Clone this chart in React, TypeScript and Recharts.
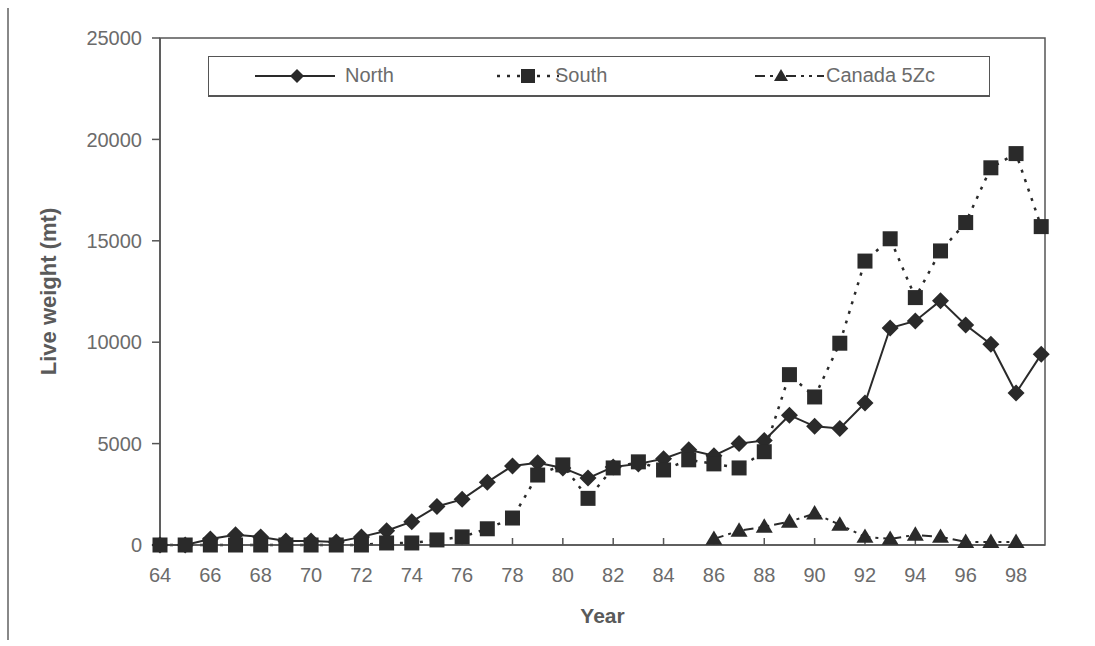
import React from 'react';
import {
  LineChart,
  Line,
  XAxis,
  YAxis,
  Legend,
  ReferenceArea,
  Label,
} from 'recharts';

const years = [
  64, 65, 66, 67, 68, 69, 70, 71, 72, 73, 74, 75, 76, 77, 78, 79, 80, 81,
  82, 83, 84, 85, 86, 87, 88, 89, 90, 91, 92, 93, 94, 95, 96, 97, 98, 99,
];
const north = [
  0, 0, 300, 500, 400, 200, 200, 150, 400, 700, 1150, 1900, 2250, 3100, 3900, 4050, 3800, 3300,
  3850, 4000, 4250, 4700, 4400, 5000, 5150, 6400, 5850, 5750, 7000, 10700, 11050, 12050, 10850, 9900, 7500, 9400,
];
const south = [
  0, 0, 0, 0, 0, 0, 0, 0, 0, 100, 100, 250, 400, 800, 1330, 3450, 3950, 2300,
  3800, 4100, 3700, 4200, 4000, 3800, 4600, 8400, 7300, 9950, 14000, 15100, 12200, 14500, 15900, 18600, 19300, 15700,
];
const canada: (number | null)[] = [
  null, null, null, null, null, null, null, null, null, null, null, null, null, null, null, null, null, null,
  null, null, null, null, 300, 700, 900, 1150, 1550, 1000, 400, 300, 500, 400, 150, 150, 150, null,
];
const yearTicks = [64, 66, 68, 70, 72, 74, 76, 78, 80, 82, 84, 86, 88, 90, 92, 94, 96, 98];
const weightTicks = [0, 5000, 10000, 15000, 20000, 25000];

const data = years.map((year, i) => ({
  year,
  north: north[i],
  south: south[i],
  canada: canada[i],
}));

const FONT = '"Liberation Sans", Arial, sans-serif';
const INK = '#2a2a2a';
const TEXT = '#6b6b6b';

const Diamond = ({ cx, cy, s = 8.5 }: { cx: number; cy: number; s?: number }) => (
  <polygon points={`${cx},${cy - s} ${cx + s},${cy} ${cx},${cy + s} ${cx - s},${cy}`} fill={INK} />
);
const Square = ({ cx, cy, s = 7.5 }: { cx: number; cy: number; s?: number }) => (
  <rect x={cx - s} y={cy - s} width={s * 2} height={s * 2} fill={INK} />
);
const Triangle = ({ cx, cy, s = 8.5 }: { cx: number; cy: number; s?: number }) => (
  <polygon points={`${cx},${cy - s} ${cx + s},${cy + s * 0.7} ${cx - s},${cy + s * 0.7}`} fill={INK} />
);

const dotOf = (Shape: React.FC<any>) => (p: any) => {
  if (p.cy == null || p.value == null) return <g key={`e-${p.index}`} />;
  return <Shape key={`m-${p.index}`} cx={p.cx} cy={p.cy} />;
};

const LegendBox = () => (
  <div
    style={{
      width: 782,
      height: 41,
      border: '1.5px solid #555',
      borderBottomWidth: 2.5,
      background: '#fff',
      boxSizing: 'border-box',
      fontFamily: FONT,
      fontSize: 20,
      color: TEXT,
      position: 'relative',
    }}
  >
    <svg width={780} height={38} style={{ position: 'absolute', left: 0, top: 0 }}>
      <line x1={46} x2={126} y1={19} y2={19} stroke={INK} strokeWidth={2} />
      <Diamond cx={88} cy={19} s={7} />
      <line x1={288} x2={350} y1={19} y2={19} stroke={INK} strokeWidth={2.5} strokeDasharray="3 7" />
      <Square cx={319} cy={19} s={7} />
      <line x1={546} x2={615} y1={19} y2={19} stroke={INK} strokeWidth={2} strokeDasharray="10 5 3 5 3 5" />
      <Triangle cx={572} cy={19} s={7} />
    </svg>
    <span style={{ position: 'absolute', left: 136, top: 7 }}>North</span>
    <span style={{ position: 'absolute', left: 346, top: 7 }}>South</span>
    <span style={{ position: 'absolute', left: 617, top: 7 }}>Canada 5Zc</span>
  </div>
);

export default function App() {
  return (
    <div
      style={{
        position: 'absolute',
        left: 0,
        top: 0,
        width: 1095,
        height: 646,
        background: '#fff',
        fontFamily: FONT,
      }}
    >
      <div style={{ position: 'absolute', left: 7, top: 8, width: 1.5, height: 632, background: '#888' }} />
      <LineChart width={1095} height={646} data={data} margin={{ top: 38, right: 50, left: 0, bottom: 0 }}>
        <ReferenceArea x1={64} x2={99.15} y1={0} y2={25000} fill="none" stroke="#555" strokeWidth={1.5} />
        <XAxis
          dataKey="year"
          type="number"
          domain={[64, 99.15]}
          ticks={yearTicks}
          height={101}
          tickSize={-7}
          tickMargin={30}
          stroke="#555"
          strokeWidth={1.5}
          tick={{ fill: TEXT, fontSize: 20, fontFamily: FONT }}
          interval={0}
        >
          <Label
            value="Year"
            position="insideBottom"
            offset={23}
            style={{ fill: '#5a5a5a', fontSize: 21, fontWeight: 'bold', fontFamily: FONT }}
          />
        </XAxis>
        <YAxis
          type="number"
          domain={[0, 25000]}
          ticks={weightTicks}
          width={160}
          tickSize={8}
          tickMargin={10}
          stroke="#555"
          strokeWidth={1.5}
          tick={{ fill: TEXT, fontSize: 20, fontFamily: FONT }}
          interval={0}
        >
          <Label
            value="Live weight (mt)"
            angle={-90}
            position="insideLeft"
            offset={48}
            style={{ fill: '#5a5a5a', fontSize: 22, fontWeight: 'bold', fontFamily: FONT, textAnchor: 'middle' }}
          />
        </YAxis>
        <Legend
          layout="horizontal"
          verticalAlign="middle"
          content={() => <LegendBox />}
          wrapperStyle={{ left: 208, top: 56, width: 782, height: 41 }}
        />
        <Line
          dataKey="north"
          name="North"
          stroke={INK}
          strokeWidth={2}
          dot={dotOf(Diamond)}
          isAnimationActive={false}
        />
        <Line
          dataKey="south"
          name="South"
          stroke={INK}
          strokeWidth={2.5}
          strokeDasharray="3 7"
          dot={dotOf(Square)}
          isAnimationActive={false}
        />
        <Line
          dataKey="canada"
          name="Canada 5Zc"
          stroke={INK}
          strokeWidth={2}
          strokeDasharray="10 5 3 5 3 5"
          dot={dotOf(Triangle)}
          isAnimationActive={false}
        />
      </LineChart>
    </div>
  );
}
